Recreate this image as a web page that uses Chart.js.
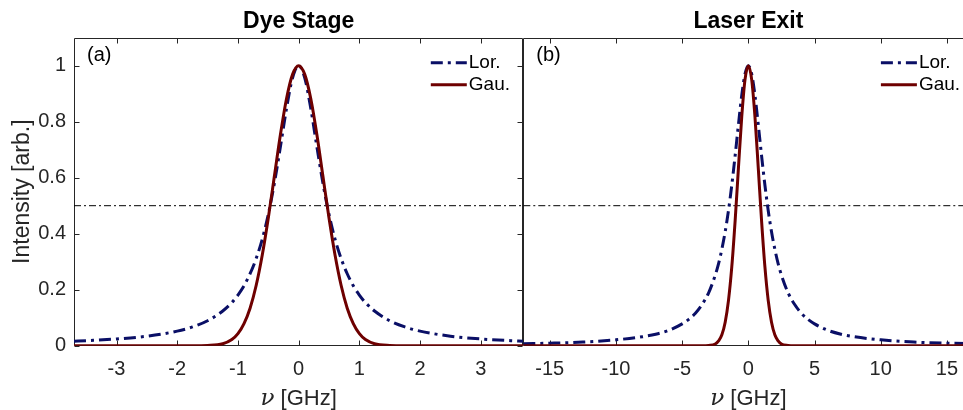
<!DOCTYPE html>
<html>
<head>
<meta charset="utf-8">
<script src="https://cdn.jsdelivr.net/npm/chart.js@4.4.0/dist/chart.umd.min.js"></script>
<style>
  html, body { margin: 0; padding: 0; background: #fff; overflow: hidden; }
  #wrap { position: relative; width: 963px; height: 410px; overflow: hidden; }
  #left { position: absolute; left: 0; top: 0; }
  #right { position: absolute; left: 518px; top: 0; }
</style>
</head>
<body>
<div id="wrap">
  <canvas id="left" width="530" height="410"></canvas>
  <canvas id="right" width="470" height="410"></canvas>
</div>
<script>
// --- Data ---

// (a) Dye Stage
const leftNu = [-3.7, -3.5, -3, -2.5, -2, -1.75, -1.5, -1.25, -1.1, -1, -0.9, -0.8, -0.7, -0.6, -0.5, -0.4, -0.3, -0.2, -0.1, 0,
  0.1, 0.2, 0.3, 0.4, 0.5, 0.6, 0.7, 0.8, 0.9, 1, 1.1, 1.25, 1.5, 1.75, 2, 2.5, 3, 3.5, 3.7];
const leftLor = [0.016, 0.018, 0.024, 0.034, 0.052, 0.067, 0.089, 0.124, 0.154, 0.181, 0.214, 0.257, 0.311, 0.380, 0.469, 0.580, 0.711, 0.847, 0.957, 1,
  0.957, 0.847, 0.711, 0.580, 0.469, 0.380, 0.311, 0.257, 0.214, 0.181, 0.154, 0.124, 0.089, 0.067, 0.052, 0.034, 0.024, 0.018, 0.016];
const leftGau = [0, 0, 0, 0, 0, 0, 0.001, 0.007, 0.022, 0.043, 0.079, 0.134, 0.215, 0.323, 0.456, 0.605, 0.754, 0.882, 0.969, 1,
  0.969, 0.882, 0.754, 0.605, 0.456, 0.323, 0.215, 0.134, 0.079, 0.043, 0.022, 0.007, 0.001, 0, 0, 0, 0, 0, 0];

// (b) Laser Exit
const rightNu = [-17, -15, -12.5, -10, -8, -7, -6, -5, -4.5, -4, -3.5, -3, -2.5, -2.25, -2, -1.75, -1.5, -1.25, -1, -0.75, -0.5, -0.25, 0,
  0.25, 0.5, 0.75, 1, 1.25, 1.5, 1.75, 2, 2.25, 2.5, 3, 3.5, 4, 4.5, 5, 6, 7, 8, 10, 12.5, 15, 17];
const rightLor = [0.007, 0.009, 0.013, 0.021, 0.032, 0.041, 0.055, 0.078, 0.094, 0.116, 0.147, 0.189, 0.252, 0.293, 0.345, 0.407, 0.483, 0.574, 0.678, 0.789, 0.894, 0.971, 1,
  0.971, 0.894, 0.789, 0.678, 0.574, 0.483, 0.407, 0.345, 0.293, 0.252, 0.189, 0.147, 0.116, 0.094, 0.078, 0.055, 0.041, 0.032, 0.021, 0.013, 0.009, 0.007];
const rightGau = [0, 0, 0, 0, 0, 0, 0, 0, 0, 0, 0, 0.001, 0.006, 0.017, 0.039, 0.084, 0.162, 0.282, 0.445, 0.634, 0.817, 0.951, 1,
  0.951, 0.817, 0.634, 0.445, 0.282, 0.162, 0.084, 0.039, 0.017, 0.006, 0.001, 0, 0, 0, 0, 0, 0, 0, 0, 0, 0, 0];

const halfMax = 0.5;

const leftXTicks = [-3, -2, -1, 0, 1, 2, 3];
const rightXTicks = [-15, -10, -5, 0, 5, 10, 15];
const yTicks = [0, 0.2, 0.4, 0.6, 0.8, 1];
const yTickLabels = ['0', '0.2', '0.4', '0.6', '0.8', '1'];

// --- Styling ---
const AXIS_COLOR = '#262626';
const LOR_COLOR = '#0a0f66';
const GAU_COLOR = '#6e0000';
const SANS = '"Liberation Sans", Arial, Helvetica, sans-serif';
const TICK_LEN = 5;

// Helper: zip x and y arrays into points
function pts(xs, ys) {
  return xs.map((x, i) => ({ x, y: ys[i] }));
}

// Frame + inward ticks, drawn under the curves (MATLAB-like box)
const framePlugin = {
  id: 'frame',
  beforeDatasetsDraw(chart, args, opts) {
    const { ctx, chartArea: a, scales } = chart;
    const L = Math.round(a.left) + 0.5, R = Math.round(a.right) - 0.5;
    const T = Math.round(a.top) + 0.5, B = Math.round(a.bottom) - 0.5;
    ctx.save();
    ctx.strokeStyle = AXIS_COLOR;
    ctx.lineWidth = 1;
    ctx.beginPath();
    ctx.moveTo(L, T); ctx.lineTo(R, T);
    ctx.moveTo(L, B); ctx.lineTo(R, B);
    ctx.moveTo(L, T); ctx.lineTo(L, B);
    ctx.moveTo(R, T); ctx.lineTo(R, B);
    scales.x.ticks.forEach(t => {
      const px = Math.round(scales.x.getPixelForValue(t.value)) + 0.5;
      ctx.moveTo(px, B); ctx.lineTo(px, B - TICK_LEN);
      ctx.moveTo(px, T); ctx.lineTo(px, T + TICK_LEN);
    });
    if (opts.yTicks) {
      yTicks.forEach(v => {
        const py = Math.round(scales.y.getPixelForValue(v)) + 0.5;
        ctx.moveTo(L, py); ctx.lineTo(L + TICK_LEN, py);
        ctx.moveTo(R, py); ctx.lineTo(R - TICK_LEN, py);
      });
    }
    ctx.stroke();
    ctx.restore();
  },
  afterDraw(chart, args, opts) {
    const { ctx, chartArea: a } = chart;
    const cx = (a.left + a.right) / 2;
    ctx.save();
    // title
    ctx.fillStyle = '#000';
    ctx.font = 'bold 23px ' + SANS;
    ctx.textAlign = 'center';
    ctx.textBaseline = 'alphabetic';
    ctx.fillText(opts.title, cx, 28);
    // panel tag
    ctx.font = '20px ' + SANS;
    ctx.textAlign = 'left';
    ctx.textBaseline = 'middle';
    ctx.fillText(opts.tag, a.left + 13, a.top + 18);
    // legend
    ctx.font = '19px ' + SANS;
    let row = 0;
    chart.data.datasets.forEach(ds => {
      if (!ds.label) return;
      const y = a.top + 25 + row * 22;
      ctx.save();
      ctx.strokeStyle = ds.borderColor;
      ctx.lineWidth = ds.borderWidth;
      ctx.setLineDash(ds.borderDash || []);
      ctx.beginPath();
      ctx.moveTo(a.right - 92.5, y);
      ctx.lineTo(a.right - 56.5, y);
      ctx.stroke();
      ctx.restore();
      ctx.fillText(ds.label, a.right - 54.5, y);
      row++;
    });
    // x-axis label: italic nu + [GHz]
    const nuFont = 'italic 23px "DejaVu Serif", "Liberation Serif", serif';
    const restFont = '22px ' + SANS;
    ctx.font = nuFont;
    const w1 = ctx.measureText('ν').width;
    ctx.font = restFont;
    const w2 = ctx.measureText(' [GHz]').width;
    let x0 = cx - (w1 + w2) / 2;
    ctx.fillStyle = AXIS_COLOR;
    ctx.textAlign = 'left';
    ctx.textBaseline = 'alphabetic';
    ctx.font = nuFont;
    ctx.fillText('ν', x0, 405);
    ctx.font = restFont;
    ctx.fillText(' [GHz]', x0 + w1, 405);
    ctx.restore();
  }
};

function buildConfig(nu, lor, gau, xMin, xMax, xTicks, panel) {
  return {
    type: 'line',
    data: {
      datasets: [
        {
          label: 'Lor.',
          data: pts(nu, lor),
          borderColor: LOR_COLOR,
          borderWidth: 3,
          borderDash: [12, 5, 3, 5],
          pointRadius: 0,
          cubicInterpolationMode: 'monotone',
          order: 1
        },
        {
          label: 'Gau.',
          data: pts(nu, gau),
          borderColor: GAU_COLOR,
          borderWidth: 3,
          pointRadius: 0,
          cubicInterpolationMode: 'monotone',
          order: 0
        },
        {
          data: [{ x: xMin, y: halfMax }, { x: xMax, y: halfMax }],
          borderColor: '#000',
          borderWidth: 1,
          borderDash: [7, 3, 2, 3],
          pointRadius: 0,
          order: 2
        }
      ]
    },
    options: {
      responsive: false,
      animation: false,
      devicePixelRatio: 1,
      layout: { padding: panel.padding },
      plugins: {
        legend: { display: false },
        tooltip: { enabled: false },
        frame: { title: panel.title, tag: panel.tag, yTicks: panel.showY }
      },
      scales: {
        x: {
          type: 'linear',
          min: xMin,
          max: xMax,
          grid: { display: false },
          border: { display: false },
          afterBuildTicks: (s) => { s.ticks = xTicks.map(v => ({ value: v })); },
          afterFit: (s) => { s.height = 410 - 345.7; },
          ticks: {
            color: AXIS_COLOR,
            font: { family: SANS, size: 20 },
            padding: 4,
            maxRotation: 0,
            callback: (v) => String(v)
          }
        },
        y: {
          display: panel.showY,
          min: 0,
          max: 1.1,
          grid: { display: false },
          border: { display: false },
          afterBuildTicks: (s) => { s.ticks = yTicks.map(v => ({ value: v })); },
          afterFit: (s) => { s.width = panel.showY ? 74 : 0; },
          ticks: {
            color: AXIS_COLOR,
            font: { family: SANS, size: 20 },
            padding: 0,
            callback: (v) => yTickLabels[yTicks.indexOf(v)]
          },
          title: {
            display: true,
            text: 'Intensity [arb.]',
            color: AXIS_COLOR,
            font: { family: SANS, size: 23, weight: 'normal' },
            padding: { top: 9, bottom: 0 }
          }
        }
      }
    },
    plugins: [framePlugin]
  };
}

new Chart(document.getElementById('left'), buildConfig(leftNu, leftLor, leftGau, -3.7, 3.7, leftXTicks,
  { title: 'Dye Stage', tag: '(a)', showY: true, padding: { left: 0, right: 6.7, top: 37.7, bottom: 0 } }));

new Chart(document.getElementById('right'), buildConfig(rightNu, rightLor, rightGau, -17, 17, rightXTicks,
  { title: 'Laser Exit', tag: '(b)', showY: false, padding: { left: 5.3, right: 14.6, top: 37.7, bottom: 0 } }));
</script>
</body>
</html>
